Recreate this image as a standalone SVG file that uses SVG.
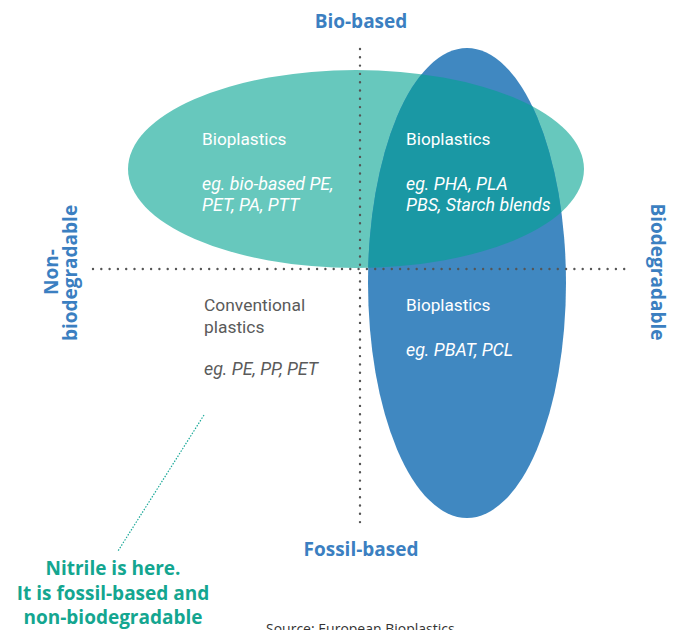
<svg xmlns="http://www.w3.org/2000/svg" width="678" height="630" viewBox="0 0 678 630">
<defs>
<style>
.axis{font-family:"Open Sans","Liberation Sans",sans-serif;font-weight:bold;font-size:19px;fill:#3b7fc1}
.w{font-family:Roboto,"Liberation Sans",sans-serif;font-size:17.2px;fill:#ffffff}
.g{font-family:Roboto,"Liberation Sans",sans-serif;font-size:17.4px;fill:#5a5a5a}
.i{font-style:italic;font-size:17.8px}
.dot{stroke:#555555;stroke-width:2.4;stroke-linecap:round;stroke-dasharray:0 8.3;fill:none}
.note{font-family:"Open Sans","Liberation Sans",sans-serif;font-weight:bold;font-size:19px;fill:#14a690}
</style>
<clipPath id="tealClip"><ellipse cx="356" cy="169" rx="228" ry="99"/></clipPath>
</defs>
<rect width="678" height="630" fill="#ffffff"/>
<g id="bio-based-ellipse"><ellipse cx="356" cy="169" rx="228" ry="99" fill="#67c8bd"/></g>
<g id="biodegradable-ellipse"><ellipse cx="467" cy="283" rx="99" ry="235" fill="#4088c1"/>
<ellipse cx="467" cy="283" rx="99" ry="235" fill="#1a98a4" clip-path="url(#tealClip)"/></g>
<g id="connectors">
<line class="dot" x1="360" y1="49" x2="360" y2="525"/>
<line class="dot" x1="93" y1="269" x2="627" y2="269"/>
<line x1="204" y1="415" x2="118" y2="551" stroke="#1aa898" stroke-width="1.2" stroke-dasharray="1.5 1.5"/>
</g>
<g id="label-bio-based"><text class="axis" x="361" y="28" text-anchor="middle">Bio-based</text></g>
<g id="label-fossil-based"><text class="axis" x="361" y="556" text-anchor="middle">Fossil-based</text></g>
<g id="label-non-biodegradable"><text class="axis" transform="translate(58,272) rotate(-90)" text-anchor="middle">Non-</text><text class="axis" transform="translate(77,273) rotate(-90)" text-anchor="middle">biodegradable</text></g>
<g id="label-biodegradable"><text class="axis" transform="translate(651,272) rotate(90)" text-anchor="middle">Biodegradable</text></g>
<g id="node-biobased-nonbio"><text class="w" x="202" y="145">Bioplastics</text><text class="w i" x="202" y="190">eg. bio-based PE,</text><text class="w i" x="202" y="211">PET, PA, PTT</text></g>
<g id="node-biobased-bio"><text class="w" x="406" y="145">Bioplastics</text><text class="w i" x="406" y="190">eg. PHA, PLA</text><text class="w i" x="406" y="211">PBS, Starch blends</text></g>
<g id="node-fossil-bio"><text class="w" x="406" y="311">Bioplastics</text><text class="w i" x="406" y="356">eg. PBAT, PCL</text></g>
<g id="node-conventional"><text class="g" x="204" y="311">Conventional</text><text class="g" x="204" y="333">plastics</text><text class="g i" x="204" y="375">eg. PE, PP, PET</text></g>
<g id="note-nitrile"><text class="note" x="113" y="575" text-anchor="middle">Nitrile is here.</text><text class="note" x="113" y="600" text-anchor="middle">It is fossil-based and</text><text class="note" x="113" y="624" text-anchor="middle">non-biodegradable</text></g>
<g id="source"><text x="266" y="634" font-family="Open Sans, Liberation Sans, sans-serif" font-size="14" fill="#333333">Source: European Bioplastics</text></g>
</svg>
